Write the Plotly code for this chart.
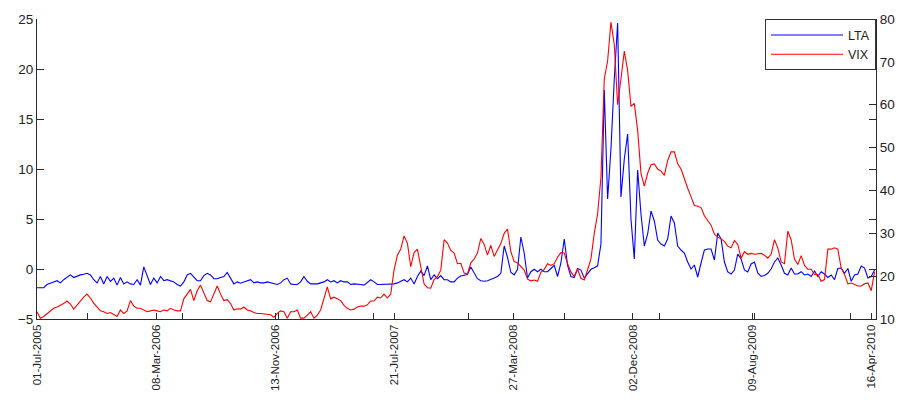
import pandas as pd
import plotly.graph_objects as go

# Weekly observations starting Friday 01-Jul-2005
dates = pd.date_range("2005-07-01", periods=252, freq="7D")

lta = [
    -1.87, -1.87, -1.87, -1.55, -1.39, -1.29, -1.17, -1.39, -1.07, -0.85,
    -0.59, -0.85, -0.69, -0.59, -0.53, -0.43, -0.59, -1.07, -1.39, -0.75,
    -1.49, -0.75, -1.23, -0.91, -1.61, -0.85, -1.49, -1.29, -1.49, -1.55,
    -1.07, -1.61, 0.21, -0.75, -1.55, -0.91, -1.39, -0.75, -1.17, -1.07,
    -1.17, -1.29, -1.55, -1.71, -1.29,
    -0.59, -0.43, -0.85, -1.17, -1.17, -0.66, -0.43, -0.59, -0.97, -0.97,
    -0.85, -0.75, -0.34, -0.85, -1.49, -1.29, -1.42, -1.29, -1.17, -1.07,
    -1.39, -1.29, -1.39, -1.39, -1.29, -1.39, -1.49, -1.55, -1.39, -1.07,
    -0.91, -1.49, -1.55, -1.55, -1.29, -0.75, -1.23, -1.49, -1.49, -1.49,
    -1.39, -1.29, -1.07,
    -1.29, -1.17, -1.39, -1.17, -1.29, -1.29, -1.55, -1.49, -1.49, -1.55,
    -1.61, -1.29, -1.07, -1.29, -1.55, -1.55, -1.55, -1.55, -1.49, -1.49,
    -1.39, -1.23, -1.07, -1.29, -0.91, -1.49, -0.75, -0.21, -0.66, 0.30,
    -1.07, -0.59, -0.97, -0.66, -1.07, -1.07, -1.29, -1.29, -0.91, -0.70,
    -0.60, -0.55,
    0.21, -0.43, -0.97, -1.17, -1.23, -1.17, -1.00, -0.91, -0.75, -0.43,
    2.30, 1.17, -0.33, -0.59, -0.02, 3.20, 1.60, -0.91, -0.27, -0.02,
    -0.27, -0.02, -0.27, -0.27, 0.05, 0.37, -0.75, 0.60, 3.00, 0.37,
    -0.75, -0.85, 0.05, -0.11, -0.91, -0.43, -0.03, 0.13, 0.32,
    2.50, 17.90, 7.00, 12.00, 19.00, 24.60, 7.20, 11.00, 13.50, 5.00,
    1.00, 9.90, 5.50, 2.30, 3.50, 5.80, 4.80, 2.90, 2.50, 2.30,
    3.00, 5.30, 4.60, 2.30, 1.90, 1.60, 0.70, 0.00, 0.40, -0.80,
    0.60, 1.90, 2.00, 2.00, 0.90, 3.60, 3.00, 0.70, -0.30, -0.50,
    -0.10, 1.50, 1.00, -0.10, -0.30, 0.50, 0.70,
    -0.40, -0.75, -0.65, -0.43, 0.00, 0.70, 1.10, 0.40, -0.43, -0.60,
    0.10, -0.50, -0.50, -0.27, -0.60, -0.50, -0.75, -0.20, -0.75, -0.27,
    -0.50, -0.85, -0.60, -1.07, 0.05, 0.10, -0.43, 0.05, -1.23, -0.60,
    -0.50, 0.30, 0.10, -0.90, -0.75, -0.10,
]

vix = [
    11.7, 10.2, 10.6, 11.3, 11.9, 12.5, 12.8, 13.2, 13.6, 14.2,
    13.5, 12.3, 13.2, 14.3, 15.1, 15.8, 14.9, 13.7, 12.7, 11.9,
    11.7, 11.3, 11.5, 11.0, 10.6, 12.1, 11.3, 11.9, 14.3, 13.0,
    12.5, 12.5, 12.1, 11.7, 11.9, 12.1, 11.9, 11.7, 12.1, 11.9,
    12.5, 12.1, 11.9, 11.9, 14.7,
    15.8, 16.9, 14.3, 16.6, 17.9, 16.2, 14.3, 14.0, 15.8, 17.7,
    15.8, 14.3, 14.5, 13.6, 12.1, 12.4, 12.3, 12.8, 12.1, 11.9,
    11.5, 11.3, 11.3, 11.2, 11.2, 11.0, 10.4, 11.3, 11.9, 11.7,
    10.2, 11.7, 11.7, 12.1, 10.2, 10.2, 10.9, 11.7, 10.2, 10.9,
    12.1, 15.0, 17.5,
    14.7, 15.1, 14.7, 14.3, 13.2, 12.5, 12.1, 12.3, 12.8, 13.0,
    13.0, 13.3, 14.2, 14.2, 15.1, 14.9, 15.8, 14.9, 15.8, 21.4,
    24.9, 26.3, 29.4, 27.7, 22.2, 25.5, 26.3, 22.2, 18.2, 17.3,
    17.2, 19.2, 19.9, 21.4, 28.5, 27.7, 26.0, 25.4, 22.9, 23.0,
    20.7, 20.5,
    23.1, 24.0, 25.4, 28.8, 27.4, 24.9, 27.2, 24.6, 26.1, 27.6,
    30.0, 31.0, 25.7, 23.4, 23.1, 22.3, 21.4, 19.3, 18.9, 19.1,
    18.8, 20.9, 21.6, 22.9, 22.5, 22.9, 24.4, 25.5, 25.4, 22.9,
    21.0, 19.9, 21.6, 19.5, 19.1, 21.5, 24.0, 30.0, 34.5,
    43.0, 66.0, 70.2, 79.3, 74.0, 60.0, 66.0, 72.5, 68.0, 59.6,
    60.3, 54.0, 44.0, 41.0, 44.0, 46.0, 46.2, 45.0, 44.5, 43.5,
    47.0, 49.0, 49.0, 46.2, 45.0, 42.5, 40.5, 38.5, 36.5, 36.3,
    36.0, 34.1, 33.0, 31.9, 29.8, 29.1, 28.7, 28.1, 27.0, 26.6,
    28.3, 27.4, 24.2, 25.7, 25.1, 25.3, 25.1,
    25.2, 25.3, 24.9, 24.2, 25.1, 28.5, 26.6, 23.3, 22.9, 30.5,
    28.5, 24.0, 22.7, 24.8, 22.5, 21.6, 21.6, 20.4, 20.4, 18.8,
    19.2, 26.3, 26.3, 26.6, 26.3, 21.8, 20.4, 18.2, 18.4, 18.1,
    17.7, 17.7, 18.2, 18.4, 16.6, 21.0,
]

# Date tick marks on the LTA axes (eight evenly spaced dates)
date_ticks = ["2005-07-01", "2006-03-08", "2006-11-13", "2007-07-21",
              "2008-03-27", "2008-12-02", "2009-08-09", "2010-04-16"]
date_labels = ["01-Jul-2005", "08-Mar-2006", "13-Nov-2006", "21-Jul-2007",
               "27-Mar-2008", "02-Dec-2008", "09-Aug-2009", "16-Apr-2010"]
# Default ticks of the VIX axes (serial day numbers in steps of 200)
vix_axis_ticks = ["2005-10-15", "2006-05-03", "2006-11-19", "2007-06-07",
                  "2007-12-24", "2008-07-11", "2009-01-27", "2009-08-15",
                  "2010-03-03"]

lta_ticks = [-5, 0, 5, 10, 15, 20, 25]
vix_ticks = [10, 20, 30, 40, 50, 60, 70, 80]

x_range = ["2005-07-01", "2010-04-26"]
font_family = "Liberation Sans, Arial, sans-serif"
dark = "#2b2b2b"

fig = go.Figure()
fig.add_trace(go.Scatter(x=dates, y=lta, name="LTA", mode="lines",
                         line=dict(color="#0000ff", width=1.1),
                         xaxis="x", yaxis="y"))
fig.add_trace(go.Scatter(x=dates, y=vix, name="VIX", mode="lines",
                         line=dict(color="#ff0000", width=1.1),
                         xaxis="x2", yaxis="y2"))

fig.update_layout(
    width=907, height=403,
    margin=dict(l=37, r=27, t=13, b=77),
    paper_bgcolor="white", plot_bgcolor="white",
    font=dict(family=font_family, color="#222", size=13),
    showlegend=True,
    legend=dict(x=1.0, xanchor="right", y=0.999, yanchor="top",
                bordercolor="#333", borderwidth=1, bgcolor="white",
                font=dict(size=12.5), itemwidth=72,
                tracegroupgap=0),
    xaxis=dict(range=x_range, tickvals=date_ticks, ticktext=date_labels,
               tickangle=-90, tickfont=dict(size=11.5),
               ticks="inside", ticklen=6, tickcolor=dark,
               showline=True, linecolor=dark, linewidth=1, mirror=False,
               showgrid=False, zeroline=False),
    xaxis2=dict(range=x_range, overlaying="x", anchor="y2", side="bottom",
                tickvals=vix_axis_ticks, showticklabels=False,
                ticks="inside", ticklen=6, tickcolor=dark,
                showline=False, showgrid=False, zeroline=False),
    xaxis3=dict(range=x_range, overlaying="x", anchor="y", side="top",
                tickvals=date_ticks, showticklabels=False,
                ticks="inside", ticklen=6, tickcolor=dark,
                showline=True, linecolor="#8c8c8c", linewidth=1,
                showgrid=False, zeroline=False),
    yaxis=dict(range=[-5, 25], tickvals=lta_ticks, tickfont=dict(size=13.5),
               ticks="inside", ticklen=7, tickcolor=dark,
               showline=True, linecolor=dark, linewidth=1, mirror="ticks",
               showgrid=False, zeroline=False),
    yaxis2=dict(range=[10, 80], tickvals=vix_ticks, overlaying="y",
                tickfont=dict(size=13.5),
                anchor="x2", side="right",
                ticks="inside", ticklen=7, tickcolor=dark,
                showline=True, linecolor=dark, linewidth=1,
                showgrid=False, zeroline=False),
)

fig.write_html("out.html")
